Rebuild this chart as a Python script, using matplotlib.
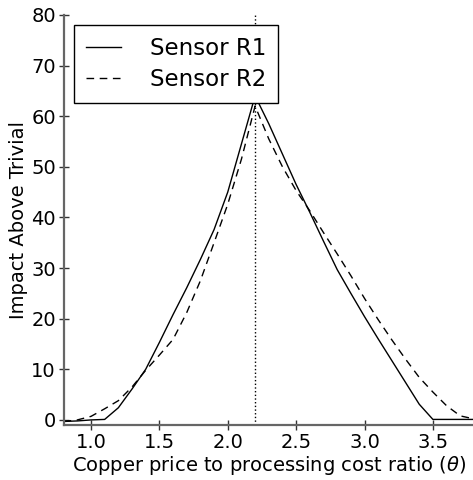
import matplotlib
matplotlib.use('Agg')
import matplotlib.pyplot as plt

# ratio values (theta) and impact for the two sensors
theta = [0.8, 0.9, 1.0, 1.1, 1.2, 1.3, 1.4, 1.5, 1.6, 1.7, 1.8, 1.9, 2.0,
         2.1, 2.2, 2.3, 2.4, 2.5, 2.6, 2.7, 2.8, 2.9, 3.0, 3.1, 3.2, 3.3,
         3.4, 3.5, 3.6, 3.7, 3.8]
sensor_r1 = [-0.3, -0.2, 0.0, 0.1, 2.4, 6.1, 10.0, 15.3, 20.8, 26.1, 31.7,
             37.6, 45.0, 54.5, 64.0, 58.5, 52.5, 46.5, 41.0, 35.3, 29.7,
             25.0, 20.4, 16.0, 11.7, 7.4, 3.1, 0.1, 0.1, 0.1, 0.1]
sensor_r2 = [-0.3, 0.0, 0.7, 2.2, 3.8, 6.5, 9.8, 12.8, 15.9, 21.2, 27.5,
             35.0, 42.6, 51.5, 62.0, 55.5, 50.0, 45.3, 41.3, 37.0, 32.8,
             28.5, 24.0, 19.8, 15.8, 12.0, 8.4, 5.5, 2.8, 0.8, 0.2]
peak_theta = 2.2

fig = plt.figure(figsize=(4.73, 4.80), dpi=100)
ax = fig.add_axes([0.1345, 0.1146, 0.8675, 0.8544])

ax.plot(theta, sensor_r1, 'k-', lw=1.0, label='Sensor R1')
ax.plot(theta, sensor_r2, 'k--', lw=1.0, dashes=(5.5, 4), label='Sensor R2')
ax.axvline(peak_theta, color='k', ls=':', lw=1.0)

ax.set_xlim(0.8, 3.8)
ax.set_ylim(-1, 80)
ax.set_xticks([1.0, 1.5, 2.0, 2.5, 3.0, 3.5])
ax.set_yticks(range(0, 81, 10))

for s in ['top', 'right']:
    ax.spines[s].set_visible(False)
for s in ['left', 'bottom']:
    ax.spines[s].set_color('#666666')
    ax.spines[s].set_linewidth(1.6)
ax.tick_params(direction='inout', length=7, width=1, color='#333333',
               labelsize=14, pad=2)

ax.set_xlabel(r'Copper price to processing cost ratio ($\theta$)', fontsize=14,
              labelpad=2)
ax.set_ylabel('Impact Above Trivial', fontsize=14, labelpad=2)

leg = ax.legend(loc='upper left', fontsize=16.5, fancybox=False,
                handlelength=1.55, handletextpad=1.25, borderpad=0.52,
                labelspacing=0.33, borderaxespad=0.45, framealpha=1)
leg.get_frame().set_edgecolor('k')
leg.get_frame().set_linewidth(1.0)

plt.savefig('out.png', dpi=100)
